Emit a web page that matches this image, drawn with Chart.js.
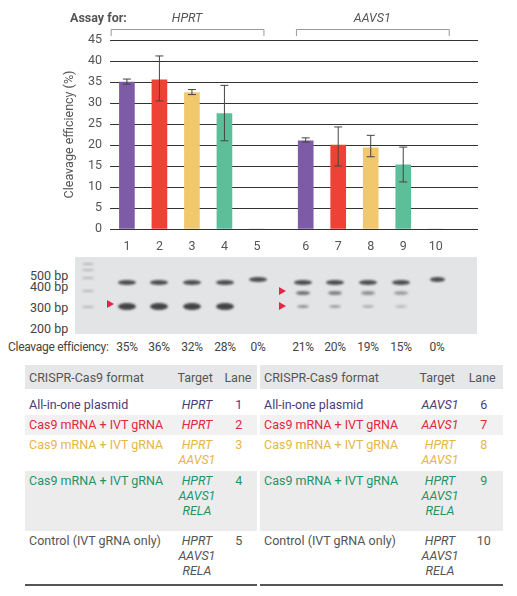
<!DOCTYPE html><html><head><meta charset="utf-8">
<script src="https://cdn.jsdelivr.net/npm/chart.js@4"></script>
<style>
body{margin:0;width:517px;height:596px;position:relative;font-family:Roboto,"Noto Sans",sans-serif;background:#fff;overflow:hidden}
.a{position:absolute;white-space:nowrap}
#gel{position:absolute;left:75px;top:257px;width:402px;height:77px;background:#e3e4e5}
.band{position:absolute;border-radius:50%;filter:blur(1px)}
table{position:absolute;top:365px;border-collapse:collapse;font-size:12.5px;color:#555}
td{padding:0 4px;vertical-align:top;line-height:15px}
.i{font-style:italic}
</style></head><body>
<canvas id="c" width="517" height="252" style="position:absolute;left:0;top:0;width:517px;height:252px"></canvas>
<div id="gel"></div>
<div class="a" style="left:30px;top:270px;font-size:12.5px;color:#444;line-height:11px">500 bp<br>400 bp</div>
<div class="a" style="left:30px;top:300px;font-size:12.5px;color:#444">300 bp</div>
<div class="a" style="left:30px;top:321px;font-size:12.5px;color:#444">200 bp</div>
<div id="eff"></div>
<div id="tbl"></div>
<script>
const lanes=["1","2","3","4","5","6","7","8","9","10"];
const lanePos=[1,2,3,4,5,6.5,7.5,8.5,9.5,10.5];
const efficiency=[35,35.5,32.5,27.5,0,21,20,19.3,15.3,0];
const errLow=[34.5,30.5,32,21,null,20.7,15,17.2,11.2,null];
const errHigh=[35.7,41.2,33.2,34.2,null,21.7,24.3,22.3,19.5,null];
const gelPercent=["35%","36%","32%","28%","0%","21%","20%","19%","15%","0%"];
const yTicks=[0,5,10,15,20,25,30,35,40,45];
const colors=["#7d5ba6","#ef4136","#f1c96c","#5cbf9a","#ccc","#7d5ba6","#ef4136","#f1c96c","#5cbf9a","#ccc"];

const extra={id:'extra',afterDatasetsDraw(ch){
 const c=ch.ctx,x=ch.scales.x,y=ch.scales.y;
 c.save();c.strokeStyle='#444';c.lineWidth=1;
 efficiency.forEach((v,i)=>{if(errLow[i]==null)return;const px=x.getPixelForValue(lanePos[i]);
  const a=y.getPixelForValue(errLow[i]),b=y.getPixelForValue(errHigh[i]);
  c.beginPath();c.moveTo(px,a);c.lineTo(px,b);c.moveTo(px-4,a);c.lineTo(px+4,a);c.moveTo(px-4,b);c.lineTo(px+4,b);c.stroke();});
 c.strokeStyle='#999';
 [[0.5,5.2],[6.2,10.9]].forEach(([s,e])=>{const l=x.getPixelForValue(s),r=x.getPixelForValue(e);
  c.beginPath();c.moveTo(l+0.5,36);c.lineTo(l+0.5,29.5);c.lineTo(r+0.5,29.5);c.lineTo(r+0.5,36);c.stroke();});
 c.fillStyle='#555';c.font='bold 12.5px Roboto';c.textBaseline='middle';c.fillText('Assay for:',70,19);
 c.font='italic 12.5px Roboto';c.textAlign='center';
 c.fillText('HPRT',x.getPixelForValue(2.85),19);c.fillText('AAVS1',x.getPixelForValue(8.55),19);
 c.restore();}};

new Chart(document.getElementById('c'),{type:'bar',
 data:{datasets:[{data:lanePos.map((p,i)=>({x:p,y:efficiency[i]})),backgroundColor:colors,barThickness:15}]},
 options:{responsive:false,animation:false,devicePixelRatio:1,
  layout:{padding:{top:40,right:39,left:0,bottom:0}},
  plugins:{legend:{display:false},tooltip:{enabled:false}},
  scales:{
   x:{type:'linear',offset:false,min:0.48,max:11.8,afterBuildTicks:s=>{s.ticks=lanePos.map(v=>({value:v}));},
      afterFit:s=>{s.height=23},grid:{display:false},border:{display:false},
      ticks:{autoSkip:false,maxRotation:0,color:'#555',font:{size:12.5,family:'Roboto'},padding:2,
       callback:(v,i)=>lanes[i]}},
   y:{min:0,max:45,afterBuildTicks:s=>{s.ticks=yTicks.map(v=>({value:v}));},afterFit:s=>{s.width=110},
      grid:{color:'#333',drawTicks:false},border:{display:false},
      ticks:{color:'#555',font:{size:12.5,family:'Roboto'},padding:8},
      title:{display:true,text:'Cleavage efficiency (%)',color:'#555',font:{size:12.5,family:'Roboto'},padding:{top:62,bottom:0}}}}},
 plugins:[extra]});

// gel (decorative)
const gel=document.getElementById('gel');
const gx=[127,159,192,225,258,303,335,368,401,437];
function band(x,y,w,h,o){const d=document.createElement('div');d.className='band';
 d.style.cssText=`left:${x-75-w/2}px;top:${y-257-h/2}px;width:${w}px;height:${h}px;background:rgba(40,40,40,${o})`;gel.appendChild(d);}
[264,270,278,291,307].forEach(y=>band(88,y,12,2,0.25));
gx.forEach((x,i)=>{band(x,i==4||i==9?279:282,i==9?15:18,5,0.8);
 if(i<4)band(x,306,18,7,0.85);
 else if(i>4&&i<9){band(x,293,14,4,0.6-(i-5)*0.08);band(x,306,12,3,0.45-(i-5)*0.08);}});
[[107,304],[279,291],[279,306]].forEach(([x,y])=>{const d=document.createElement('div');d.className='a';
 d.style.cssText=`left:${x}px;top:${y-4}px;width:0;height:0;border-left:7px solid #e8234a;border-top:4px solid transparent;border-bottom:4px solid transparent`;document.body.appendChild(d);});
const eff=document.getElementById('eff');
let h='<div class="a" style="left:8px;top:340px;font-size:12px;letter-spacing:-0.3px;color:#444">Cleavage efficiency:</div>';
gelPercent.forEach((p,i)=>h+=`<div class="a" style="left:${gx[i]-20}px;width:40px;text-align:center;top:340px;font-size:12px;letter-spacing:-0.2px;color:#444">${p}</div>`);
eff.innerHTML=h;

// table
const fmt=["All-in-one plasmid","Cas9 mRNA + IVT gRNA","Cas9 mRNA + IVT gRNA","Cas9 mRNA + IVT gRNA","Control (IVT gRNA only)"];
const tgtL=[["HPRT"],["HPRT"],["HPRT","AAVS1"],["HPRT","AAVS1","RELA"],["HPRT","AAVS1","RELA"]];
const tgtR=[["AAVS1"],["AAVS1"],["HPRT","AAVS1"],["HPRT","AAVS1","RELA"],["HPRT","AAVS1","RELA"]];
const rowCol=["#4a3a7d","#e0283a","#e6b548","#1f9466","#555"];
const rowBg=["#fff","#f1f1f2","#fff","#ececed","#fff"];
const rowH=[20,20,36,60,54];
function mk(left,w,tg,off){let s=`<table style="left:${left}px;width:${w}px;border-bottom:2px solid #555"><tr style="background:#e6e7e8;height:24px"><td style="vertical-align:middle">CRISPR-Cas9 format</td><td style="vertical-align:middle">Target</td><td style="vertical-align:middle">Lane</td></tr><tr style="height:6px"><td></td></tr>`;
 fmt.forEach((f,i)=>{s+=`<tr style="background:${rowBg[i]};color:${rowCol[i]};height:${rowH[i]}px"><td style="padding-top:2px">${f}</td><td class="i" style="text-align:center;padding-top:2px">${tg[i].join('<br>')}</td><td style="text-align:center;padding-top:2px">${lanes[i+off]}</td></tr>`;});
 return s+'</table>';}
document.getElementById('tbl').innerHTML=mk(25,232,tgtL,0)+mk(260,243,tgtR,5);
</script></body></html>
